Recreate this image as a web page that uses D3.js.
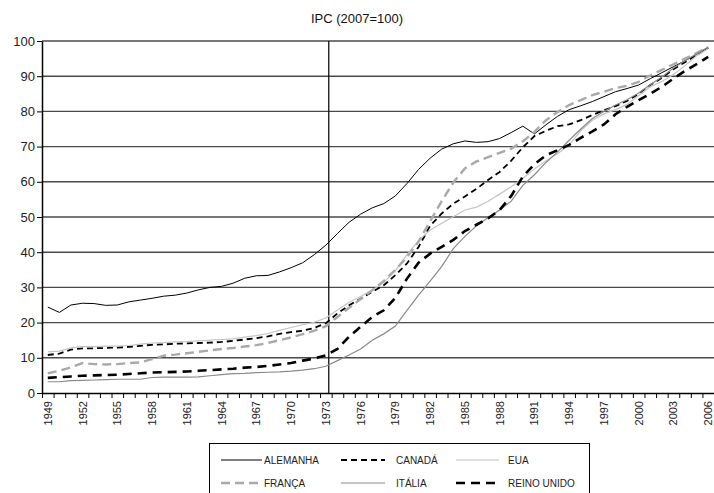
<!DOCTYPE html>
<html>
<head>
<meta charset="utf-8">
<script src="https://cdn.jsdelivr.net/npm/d3@7"></script>
<style>
  body { margin: 0; background: #fff; }
  svg { font-family: "Liberation Sans", Arial, sans-serif; }
</style>
</head>
<body>
<div class="ipc-chart"></div>
<script>
// anos (valores anuais, meio do ano)
const years = d3.range(1949, 2007);
const tickYears = d3.range(1949, 2007, 3);
const yTicks = [0, 10, 20, 30, 40, 50, 60, 70, 80, 90, 100];
const seriesNames = ['ALEMANHA', 'CANADÁ', 'EUA', 'FRANÇA', 'ITÁLIA', 'REINO UNIDO'];

const alemanha = [24.4, 22.9, 25.0, 25.5, 25.4, 24.9, 25.0, 25.9, 26.4, 26.9, 27.5, 27.8, 28.4, 29.3, 30.0, 30.3,
  31.2, 32.6, 33.3, 33.4, 34.4, 35.6, 37.0, 39.3, 42.0, 45.3, 48.5, 50.8, 52.6, 53.8, 56.0, 59.5,
  63.5, 66.7, 69.3, 70.8, 71.6, 71.2, 71.4, 72.3, 74.0, 75.8, 73.6, 76.2, 78.6, 80.5, 81.6, 82.8,
  84.2, 85.6, 86.5, 87.5, 89.3, 91.0, 92.7, 94.4, 96.2, 98.0];
const canada = [10.8, 11.2, 12.3, 12.7, 12.7, 12.8, 12.9, 13.1, 13.4, 13.7, 13.8, 14.0, 14.1, 14.2, 14.3, 14.5,
  14.8, 15.2, 15.6, 16.1, 16.8, 17.3, 17.7, 18.5, 19.8, 22.6, 24.9, 26.8, 28.7, 30.6, 33.5, 36.8,
  41.5, 47.5, 51.0, 53.8, 55.8, 58.0, 60.5, 62.8, 66.0, 69.8, 73.0, 74.5, 75.8, 76.3, 77.5, 79.0,
  80.3, 81.5, 83.0, 85.0, 87.5, 89.5, 92.0, 94.0, 96.0, 98.0];
const eua = [11.7, 11.9, 12.8, 13.2, 13.2, 13.3, 13.3, 13.5, 13.9, 14.2, 14.3, 14.5, 14.6, 14.8, 15.0, 15.2,
  15.4, 15.9, 16.3, 16.9, 17.8, 18.6, 19.4, 20.1, 21.3, 23.6, 25.8, 27.4, 29.2, 31.4, 34.8, 39.3,
  43.3, 46.3, 48.2, 50.1, 52.0, 52.8, 54.5, 56.5, 58.6, 61.0, 63.6, 66.0, 68.0, 70.5, 74.5, 77.5,
  79.3, 80.5, 82.0, 84.5, 87.0, 88.5, 90.5, 93.0, 95.8, 97.8];
const franca = [5.6, 6.3, 7.3, 8.5, 8.2, 8.1, 8.2, 8.5, 8.7, 9.6, 10.6, 10.9, 11.3, 11.7, 12.1, 12.5,
  12.8, 13.2, 13.6, 14.2, 15.0, 15.8, 16.7, 17.7, 19.0, 21.6, 24.2, 26.7, 29.2, 31.8, 35.0, 38.6,
  43.0, 48.8, 54.5, 59.8, 63.8, 65.8, 67.0, 68.2, 69.4, 71.5, 74.2, 77.5, 79.8, 81.8, 83.2, 84.6,
  85.6, 86.6, 87.3, 88.4, 90.2, 91.8, 93.4, 95.0, 96.6, 98.2];
const italia = [3.2, 3.2, 3.5, 3.6, 3.7, 3.8, 3.9, 3.9, 3.9, 4.4, 4.5, 4.5, 4.5, 4.6, 4.9, 5.2,
  5.5, 5.6, 5.8, 5.9, 6.0, 6.2, 6.5, 6.9, 7.6, 9.2, 10.8, 12.5, 15.0, 16.8, 19.0, 23.5,
  27.8, 31.8, 36.0, 41.0, 44.5, 47.5, 49.8, 52.0, 54.5, 59.0, 62.0, 65.5, 68.5, 71.8, 75.0, 78.0,
  80.0, 81.8, 83.3, 85.2, 87.6, 89.8, 92.3, 94.4, 96.4, 98.3];
const reinoUnido = [4.3, 4.5, 4.7, 4.9, 5.0, 5.1, 5.2, 5.4, 5.6, 5.8, 5.9, 6.0, 6.1, 6.3, 6.5, 6.7,
  6.9, 7.2, 7.4, 7.7, 8.1, 8.5, 9.2, 9.8, 10.7, 12.5, 16.0, 18.8, 21.6, 23.5, 27.0, 32.5,
  37.0, 39.6, 41.5, 43.5, 46.0, 47.8, 49.6, 52.0, 56.0, 61.5, 65.0, 67.5, 69.0, 70.5, 72.5, 74.3,
  76.3, 79.2, 81.3, 83.2, 85.0, 87.0, 89.3, 91.5, 93.4, 95.5];
const vertLineYear = 1973.75;

const seriesData = [alemanha, canada, eua, franca, italia, reinoUnido];
const seriesStyle = [
  { color: '#000', width: 1, dash: null },
  { color: '#000', width: 1.8, dash: '6,4' },
  { color: '#c4c4c4', width: 1.2, dash: null },
  { color: '#a9a9a9', width: 2.4, dash: '9,5' },
  { color: '#8a8a8a', width: 1.2, dash: null },
  { color: '#000', width: 2.6, dash: '9,6' }
];

const svg_width = 714;
const svg_height = 493;
const margin = { top: 41, right: 0, bottom: 100, left: 42 };
const chart_width = svg_width - margin.left - margin.right;
const chart_height = svg_height - margin.top - margin.bottom;

const svg = d3.select('.ipc-chart')
  .append('svg')
  .attr('width', svg_width)
  .attr('height', svg_height);

// título
svg.append('text')
  .attr('x', 357)
  .attr('y', 23)
  .attr('text-anchor', 'middle')
  .style('font-size', '13px')
  .style('fill', '#111')
  .text('IPC (2007=100)');

const g = svg.append('g')
  .attr('transform', `translate(${margin.left},${margin.top})`);

const xScale = d3.scaleLinear()
  .domain([1949, 2007])
  .range([0, chart_width]);
const yScale = d3.scaleLinear()
  .domain([0, 100])
  .range([chart_height, 0]);

// grade horizontal
g.append('g')
  .selectAll('line')
  .data(yTicks.filter(d => d > 0))
  .join('line')
  .attr('x1', 0)
  .attr('x2', chart_width)
  .attr('y1', d => yScale(d))
  .attr('y2', d => yScale(d))
  .attr('stroke', '#4a4a4a')
  .attr('stroke-width', 1.4);

// eixo y
const yAxis = d3.axisLeft(yScale)
  .tickValues(yTicks)
  .tickSizeInner(5)
  .tickSizeOuter(0);
const yAxisDraw = g.append('g')
  .attr('class', 'y axis')
  .call(yAxis);
yAxisDraw.select('.domain').attr('stroke-width', 1.5);
yAxisDraw.selectAll('text')
  .style('font-size', '13px')
  .style('fill', '#222')
  .attr('x', -7);

// eixo x
const xAxis = d3.axisBottom(xScale)
  .tickValues(d3.range(1949, 2008))
  .tickSizeInner(5)
  .tickSizeOuter(0)
  .tickFormat('');
const xAxisDraw = g.append('g')
  .attr('class', 'x axis')
  .attr('transform', `translate(0,${chart_height})`)
  .call(xAxis);
xAxisDraw.select('.domain').attr('stroke-width', 1.5);

g.append('g')
  .selectAll('text')
  .data(tickYears)
  .join('text')
  .attr('transform', d => `translate(${xScale(d + 0.5) + 4},${chart_height + 8}) rotate(-90)`)
  .attr('text-anchor', 'end')
  .style('font-size', '11px')
  .style('fill', '#222')
  .text(d => d);

// linha vertical (choque do petróleo)
g.append('line')
  .attr('x1', xScale(vertLineYear))
  .attr('x2', xScale(vertLineYear))
  .attr('y1', 0)
  .attr('y2', chart_height)
  .attr('stroke', '#111')
  .attr('stroke-width', 1.3);

// séries
const line = d3.line()
  .x((d, i) => xScale(years[i] + 0.5))
  .y(d => yScale(d));

seriesData.forEach((s, k) => {
  g.append('path')
    .datum(s)
    .attr('fill', 'none')
    .attr('stroke', seriesStyle[k].color)
    .attr('stroke-width', seriesStyle[k].width)
    .attr('stroke-dasharray', seriesStyle[k].dash)
    .attr('d', line);
});

// legenda
const legend = svg.append('g').attr('class', 'legend');
legend.append('rect')
  .attr('x', 209.5)
  .attr('y', 443.5)
  .attr('width', 380)
  .attr('height', 80)
  .attr('fill', 'none')
  .attr('stroke', '#000')
  .attr('stroke-width', 1);

const legCols = [221, 341, 456];
const legRows = [460, 483];
const legLen = [41, 44, 43];
const legTextX = [264, 396, 508];

seriesNames.forEach((name, k) => {
  const col = k % 3;
  const row = Math.floor(k / 3);
  const st = seriesStyle[k];
  legend.append('line')
    .attr('x1', legCols[col])
    .attr('x2', legCols[col] + legLen[col])
    .attr('y1', legRows[row])
    .attr('y2', legRows[row])
    .attr('stroke', st.color)
    .attr('stroke-width', st.width)
    .attr('stroke-dasharray', st.dash);
  legend.append('text')
    .attr('x', legTextX[col])
    .attr('y', legRows[row] + 4)
    .style('font-size', '10px')
    .style('fill', '#222')
    .text(name);
});
</script>
</body>
</html>
